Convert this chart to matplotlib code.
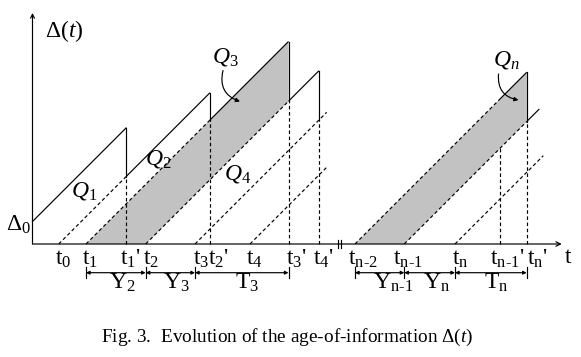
import matplotlib
matplotlib.use('Agg')
import matplotlib.pyplot as plt
from matplotlib.patches import Polygon

plt.rcParams['font.family'] = ['Liberation Serif', 'DejaVu Serif']
plt.rcParams['mathtext.fontset'] = 'custom'
plt.rcParams['mathtext.rm'] = 'Liberation Serif'
plt.rcParams['mathtext.it'] = 'Liberation Serif:italic'
plt.rcParams['mathtext.bf'] = 'Liberation Serif:bold'

# ---------------- data (time units; age uses same units) ----------------
delta0 = 22.5
gen_left = [26.2, 53.5, 113.2, 162.5, 217.5]          # t0 .. t4
recv_left = [93.5, 177.5, 256.0, 286.5]               # t1' .. t4'
gen_right = [322.5, 371.8, 422.5]                     # t_{n-2}, t_{n-1}, t_n
recv_right = [467.5, 494.2]                           # t_{n-1}', t_n'
left_end = 294.2                                      # end of dashed t3, t4 lines
right_ends = [506.8, 510.8]                           # end of t_{n-1}, t_n lines
axis_end = 529.2
yaxis_top = 231.0
break_pos = [305.8, 308.5]

gen_left_labels = [r"$\mathrm{t_0}$", r"$\mathrm{t_1}$", r"$\mathrm{t_2}$", r"$\mathrm{t_3}$", r"$\mathrm{t_4}$"]
recv_left_labels = [r"$\mathrm{t_1}$'", r"$\mathrm{t_2}$'", r"$\mathrm{t_3}$'", r"$\mathrm{t_4}$'"]
gen_right_labels = [r"$\mathrm{t_{n\text{-}2}}$", r"$\mathrm{t_{n\text{-}1}}$", r"$\mathrm{t_n}$"]
recv_right_labels = [r"$\mathrm{t_{n\text{-}1}}$'", r"$\mathrm{t_n}$'"]
interval_labels_left = [r"$\mathrm{Y_2}$", r"$\mathrm{Y_3}$", r"$\mathrm{T_3}$"]
interval_labels_right = [r"$\mathrm{Y_{n\text{-}1}}$", r"$\mathrm{Y_n}$", r"$\mathrm{T_n}$"]

# ---------------- figure ----------------
fig = plt.figure(figsize=(5.81, 3.57), dpi=100)
ax = fig.add_axes([0, 0, 1, 1])
ax.set_xlim(-32.5, 548.5)
ax.set_ylim(-113, 244)
ax.axis('off')

LW = 0.85
DASH = (0, (3.0, 2.2))
GRAY = '#c2c2c2'
FS = 17

def age(t, g):
    return t - g

def solid(x0, x1, g):
    ax.plot([x0, x1], [age(x0, g), age(x1, g)], color='k', lw=LW, solid_capstyle='butt')

def dashed(x0, x1, g):
    ax.plot([x0, x1], [age(x0, g), age(x1, g)], color='k', lw=LW, linestyle=DASH)

# gray regions
g1, g2 = gen_left[1], gen_left[2]
r3 = recv_left[2]
ax.add_patch(Polygon([(g1, 0), (r3, age(r3, g1)), (r3, age(r3, g2)), (g2, 0)],
                     closed=True, facecolor=GRAY, edgecolor='none', zorder=1))
gr0, gr1 = gen_right[0], gen_right[1]
rn = recv_right[1]
ax.add_patch(Polygon([(gr0, 0), (rn, age(rn, gr0)), (rn, age(rn, gr1)), (gr1, 0)],
                     closed=True, facecolor=GRAY, edgecolor='none', zorder=1))

# ---------------- left panel sawtooth ----------------
ax.plot([0, recv_left[0]], [delta0, delta0 + recv_left[0]], color='k', lw=LW)
for k, r in enumerate(recv_left):
    top = delta0 + r if k == 0 else age(r, gen_left[k - 1])
    bottom = age(r, gen_left[k])
    ax.plot([r, r], [bottom, top], color='k', lw=LW)
    ax.plot([r, r], [0, bottom], color='k', lw=LW, linestyle=DASH)
for k in range(3):
    dashed(gen_left[k], recv_left[k], gen_left[k])
    solid(recv_left[k], recv_left[k + 1], gen_left[k])
for k in (3, 4):
    dashed(gen_left[k], left_end, gen_left[k])

# ---------------- right panel ----------------
dashed(gr0, recv_right[0], gr0)
solid(recv_right[0], rn, gr0)
dashed(gr1, rn, gr1)
solid(rn, right_ends[0], gr1)
dashed(gen_right[2], right_ends[1], gen_right[2])
ax.plot([rn, rn], [age(rn, gr1), age(rn, gr0)], color='k', lw=LW)
ax.plot([rn, rn], [0, age(rn, gr1)], color='k', lw=LW, linestyle=DASH)
rm1 = recv_right[0]
ax.plot([rm1, rm1], [0, age(rm1, gr1)], color='k', lw=LW, linestyle=DASH)

# ---------------- axes ----------------
ax.annotate('', xy=(0, yaxis_top), xytext=(0, 0),
            arrowprops=dict(arrowstyle='->', lw=LW, color='k', mutation_scale=7, shrinkA=0, shrinkB=0))
ax.annotate('', xy=(axis_end, 0), xytext=(0, 0),
            arrowprops=dict(arrowstyle='->', lw=LW, color='k', mutation_scale=8, shrinkA=0, shrinkB=0))
for b in break_pos:
    ax.plot([b, b], [-3.7, 3.7], color='k', lw=LW)
ax.text(axis_end + 3, -19, 't', fontsize=FS, ha='left', va='baseline')
ax.text(12.5, 207, r"$\Delta(t)$", fontsize=FS, ha='left', va='baseline')
ax.text(-26.5, 13, r"$\Delta_0$", fontsize=FS, ha='left', va='baseline')

# tick labels
base = -21
for t, lab, off in zip(gen_left, gen_left_labels, [-3.7, -4.3, -2.7, -2.3, -4.0]):
    ax.text(t + off, base, lab, fontsize=FS, ha='left', va='baseline')
for t, lab, off in zip(recv_left, recv_left_labels, [-6.0, -1.7, -2.7, -6.3]):
    ax.text(t + off, base, lab, fontsize=FS, ha='left', va='baseline')
for t, lab, off in zip(gen_right, gen_right_labels, [-7.0, -11.0, -3.3]):
    ax.text(t + off, base, lab, fontsize=FS, ha='left', va='baseline')
for t, lab, off in zip(recv_right, recv_right_labels, [-10.0, 0.0]):
    ax.text(t + off, base, lab, fontsize=FS, ha='left', va='baseline')

# interval brackets
ybr = -28.7
def bracket(edges, labels):
    for e in edges:
        ax.plot([e, e], [-22.7, -34.3], color='k', lw=LW)
    for a, b, lab in zip(edges[:-1], edges[1:], labels):
        ax.annotate('', xy=(b, ybr), xytext=(a, ybr),
                    arrowprops=dict(arrowstyle='<|-|>', lw=LW, color='k', mutation_scale=5,
                                    shrinkA=0, shrinkB=0))
        ax.text((a + b) / 2 - 7, -45, lab, fontsize=FS, ha='left', va='baseline')

bracket([gen_left[1], gen_left[2], gen_left[3], recv_left[2]], interval_labels_left)
bracket([gen_right[0], gen_right[1], gen_right[2], recv_right[1]], interval_labels_right)

# Q labels
ax.text(51.5, 53, r"$\mathit{Q_1}$", fontsize=FS, ha='center', va='center')
ax.text(125.5, 85, r"$\mathit{Q_2}$", fontsize=FS, ha='center', va='center')
ax.text(205.5, 70, r"$\mathit{Q_4}$", fontsize=FS, ha='center', va='center')
ax.text(193, 187, r"$\mathit{Q_3}$", fontsize=FS, ha='center', va='center')
ax.text(474, 184, r"$\mathit{Q_n}$", fontsize=FS, ha='center', va='center')

ax.annotate('', xy=(207.5, 142.5), xytext=(190.5, 173.5),
            arrowprops=dict(arrowstyle='-|>', lw=LW, color='k', mutation_scale=6,
                            shrinkA=0, shrinkB=0, connectionstyle='arc3,rad=0.45'))
ax.annotate('', xy=(486, 144), xytext=(466, 170),
            arrowprops=dict(arrowstyle='-|>', lw=LW, color='k', mutation_scale=6,
                            shrinkA=0, shrinkB=0, connectionstyle='arc3,rad=0.45'))

# caption
ax.text(255, -97.5, r"Fig. 3.  Evolution of the age-of-information $\Delta(t)$",
        fontsize=13.9, ha='center', va='baseline')

fig.savefig('out.png', dpi=100)
